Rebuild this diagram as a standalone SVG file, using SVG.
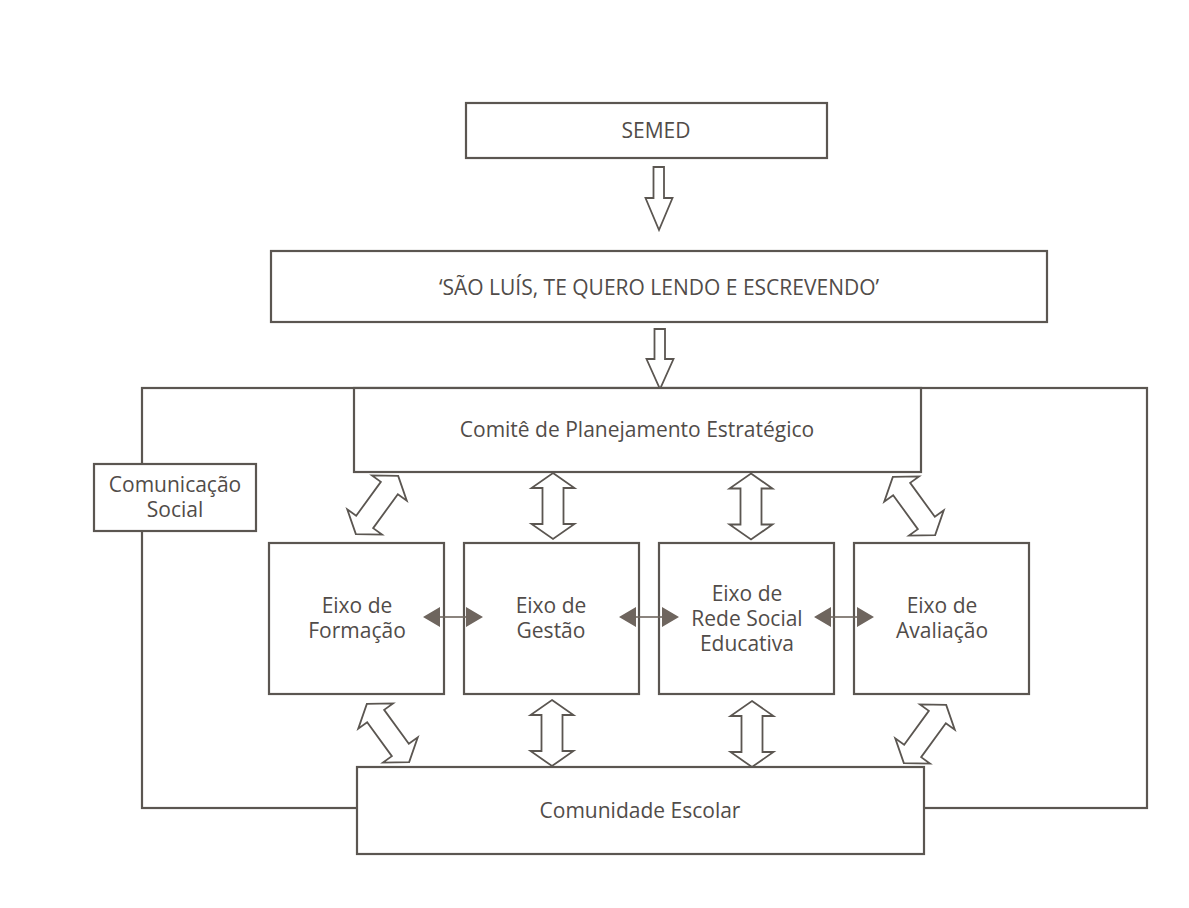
<svg xmlns="http://www.w3.org/2000/svg" width="1189" height="908" viewBox="0 0 1189 908">
<style>
.box{fill:#fff;stroke:#5b5651;stroke-width:2.2}
.frame{fill:none;stroke:#5b5651;stroke-width:2.2}
.blk{fill:#fff;stroke:#5b5651;stroke-width:1.8;stroke-linejoin:miter}
.t{font-family:"Open Sans","Liberation Sans",sans-serif;font-size:21px;fill:#514c49;text-anchor:middle}
.ln{stroke:#6e655e;stroke-width:1.6}
.hd{fill:#6e655e}
</style>
<defs>
<path id="dv" d="M0,-33 L21.5,-18 L10.5,-18 L10.5,18 L21.5,18 L0,33 L-21.5,18 L-10.5,18 L-10.5,-18 L-21.5,-18 Z"/>
<path id="dd" d="M0,-36 L21.5,-21 L10.5,-21 L10.5,21 L21.5,21 L0,36 L-21.5,21 L-10.5,21 L-10.5,-21 L-21.5,-21 Z"/>
</defs>
<rect width="1189" height="908" fill="#fff"/>

<g id="outer-frame">
<rect class="frame" x="142" y="388" width="1005" height="420"/>
</g>

<g id="connectors">
<path class="blk" d="M653.5,167 L664,167 L664,198 L672.5,198 L659,230 L645.5,198 L653.5,198 Z"/>
<path class="blk" d="M654.5,329 L665,329 L665,359 L673.5,359 L660,389 L646.5,359 L654.5,359 Z"/>
<use href="#dv" class="blk" transform="translate(553,506)"/>
<use href="#dv" class="blk" transform="translate(751,506.5)"/>
<use href="#dv" class="blk" transform="translate(552,733)"/>
<use href="#dv" class="blk" transform="translate(752,734)"/>
<use href="#dd" class="blk" transform="translate(377,505) rotate(36)"/>
<use href="#dd" class="blk" transform="translate(914,506) rotate(-36)"/>
<use href="#dd" class="blk" transform="translate(388,733) rotate(-36)"/>
<use href="#dd" class="blk" transform="translate(925,734) rotate(36)"/>
</g>

<g id="semed"><rect class="box" x="466" y="103" width="361" height="55"/><text class="t" x="656" y="138">SEMED</text></g>
<g id="programa"><rect class="box" x="271" y="251" width="776" height="71"/><text class="t" x="659" y="295">‘SÃO LUÍS, TE QUERO LENDO E ESCREVENDO’</text></g>
<g id="comite"><rect class="box" x="354" y="388" width="567" height="84"/><text class="t" x="637" y="437">Comitê de Planejamento Estratégico</text></g>
<g id="comunicacao"><rect class="box" x="94" y="464" width="162" height="67"/><text class="t" x="175" y="492">Comunicação</text><text class="t" x="175" y="517">Social</text></g>
<g id="eixo-formacao"><rect class="box" x="269" y="543" width="175" height="151"/><text class="t" x="357" y="613">Eixo de</text><text class="t" x="357" y="638">Formação</text></g>
<g id="eixo-gestao"><rect class="box" x="464" y="543" width="175" height="151"/><text class="t" x="551" y="613">Eixo de</text><text class="t" x="551" y="638">Gestão</text></g>
<g id="eixo-rede"><rect class="box" x="659" y="543" width="175" height="151"/><text class="t" x="747" y="601">Eixo de</text><text class="t" x="747" y="626">Rede Social</text><text class="t" x="747" y="651">Educativa</text></g>
<g id="eixo-avaliacao"><rect class="box" x="854" y="543" width="175" height="151"/><text class="t" x="942" y="613">Eixo de</text><text class="t" x="942" y="638">Avaliação</text></g>
<g id="comunidade"><rect class="box" x="357" y="767" width="567" height="87"/><text class="t" x="640" y="818">Comunidade Escolar</text></g>

<g id="horizontal-connectors">
<line class="ln" x1="438" y1="617" x2="468" y2="617"/>
<path class="hd" d="M423,617 L440,607 L440,627 Z M483,617 L466,607 L466,627 Z"/>
<line class="ln" x1="634" y1="617" x2="664" y2="617"/>
<path class="hd" d="M619,617 L636,607 L636,627 Z M679,617 L662,607 L662,627 Z"/>
<line class="ln" x1="829" y1="617" x2="859" y2="617"/>
<path class="hd" d="M814,617 L831,607 L831,627 Z M874,617 L857,607 L857,627 Z"/>
</g>
</svg>
